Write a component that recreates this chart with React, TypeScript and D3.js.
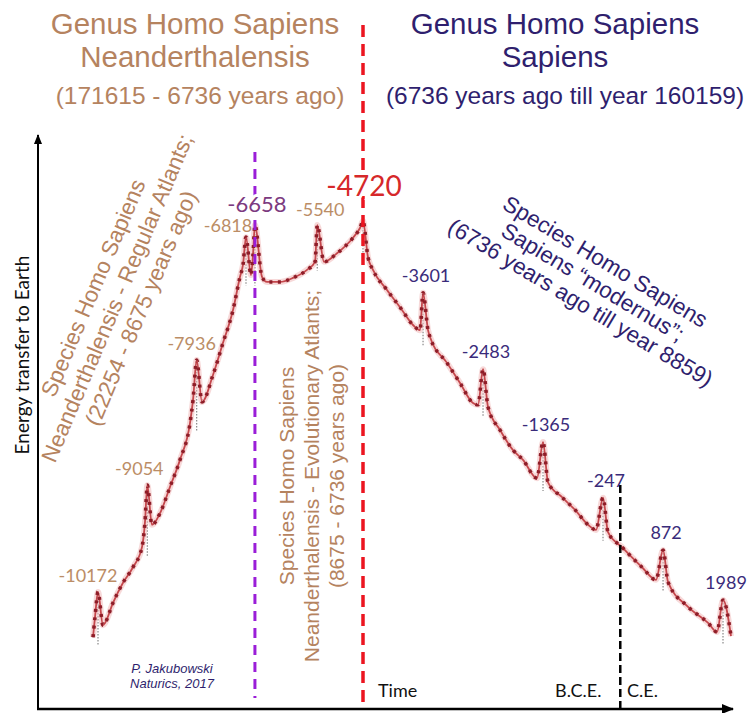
import React, { useEffect, useRef } from 'react';
import * as d3 from 'd3';

// curve points (year, relative energy 0..100)
const curveYears = [
  -10285, -10240, -10172, -10059, -10013, -9832, -9605, -9379, -9175, -9107,
  -9054, -8950, -8767, -8540, -8314, -8087, -8019, -7936, -7815, -7566,
  -7339, -7112, -6954, -6886, -6818, -6728, -6693, -6658, -6531, -6441,
  -6208, -5975, -5724, -5580, -5540, -5419, -5186, -4899, -4774, -4720,
  -4627, -4534, -4273, -4030, -3788, -3658, -3601, -3508, -3471, -3154,
  -2912, -2670, -2576, -2483, -2390, -2166, -1924, -1738, -1477, -1365,
  -1272, -1011, -769, -526, -377, -247, -154, 107, 480, 741,
  872, 965, 1338, 1711, 1878, 1989, 2138,
];
const curveEnergy = [
  12.5, 16.0, 20.4, 14.6, 15.0, 18.5, 22.0, 24.7, 28.2, 32.6,
  39.0, 32.1, 34.1, 38.7, 43.4, 49.8, 53.8, 60.8, 53.5, 58.2,
  63.8, 69.5, 75.3, 77.4, 82.2, 75.6, 79.1, 84.3, 75.3, 74.4,
  74.4, 75.1, 76.5, 77.9, 84.3, 77.9, 79.4, 82.1, 83.8, 85.0,
  78.7, 76.5, 73.0, 70.0, 66.9, 66.0, 72.5, 66.0, 64.8, 60.3,
  56.8, 53.3, 53.0, 59.2, 52.6, 48.6, 45.1, 43.4, 40.2, 46.5,
  39.5, 36.9, 34.7, 32.1, 31.2, 36.8, 30.8, 28.2, 24.7, 22.5,
  27.7, 22.1, 17.8, 15.0, 13.4, 19.0, 12.7,
];

const peakYears = [-10172, -9054, -7936, -6818, -6658, -5540, -4720, -3601, -2483, -1365, -247, 872, 1989];

const leftTitle = ['Genus Homo Sapiens', 'Neanderthalensis'];
const leftSub = '(171615 - 6736 years ago)';
const rightTitle = ['Genus Homo Sapiens', 'Sapiens'];
const rightSub = '(6736 years ago till year 160159)';
const regularText = ['Species Homo Sapiens', 'Neanderthalensis - Regular Atlants;', '(22254 - 8675 years ago)'];
const evolText = ['Species Homo Sapiens', 'Neanderthalensis -  Evolutionary Atlants;', '(8675 - 6736 years ago)'];
const modernText = ['Species Homo Sapiens', 'Sapiens \u201cmodernus\u201d;', '(6736 years ago till year 8859)'];
const credit = ['P. Jakubowski', 'Naturics, 2017'];

const TAN = '#b5835f';
const INDIGO = '#2f1f6e';
const ARIAL = '"Liberation Sans", Arial, sans-serif';
const ROUND = 'Lato, "Noto Sans", sans-serif';

const W = 750;
const H = 713;

const App = () => {
  const ref = useRef<SVGSVGElement | null>(null);

  useEffect(() => {
    const svg = d3.select(ref.current);
    svg.selectAll('*').remove();

    const axisX = 38;
    const axisY = 709;

    const x = d3.scaleLinear().domain([-10172, -6818, -4720, 1989]).range([98, 246, 363, 723]);
    const y = d3.scaleLinear().domain([0, 100]).range([axisY, 135]);

    const defs = svg.append('defs');
    defs.append('marker')
      .attr('id', 'arrow')
      .attr('viewBox', '0 0 10 10')
      .attr('refX', 9)
      .attr('refY', 5)
      .attr('markerWidth', 5)
      .attr('markerHeight', 5)
      .attr('markerUnits', 'strokeWidth')
      .attr('orient', 'auto')
      .append('path')
      .attr('d', 'M0,1 L10,5 L0,9 Z')
      .attr('fill', '#000');

    const pts = curveYears.map((yr, i) => [yr, curveEnergy[i]] as [number, number]);
    const energyAt = (yr: number) => curveEnergy[curveYears.indexOf(yr)];

    // titles
    const title = (lines: string[], sub: string, cx: number, subCx: number, color: string) => {
      lines.forEach((t, i) => {
        svg.append('text')
          .attr('x', cx).attr('y', 34 + i * 33)
          .attr('text-anchor', 'middle')
          .style('font-family', ARIAL).style('font-size', '29.5px')
          .attr('fill', color).text(t);
      });
      svg.append('text')
        .attr('x', subCx).attr('y', 104)
        .attr('text-anchor', 'middle')
        .style('font-family', ARIAL).style('font-size', '24.5px')
        .attr('fill', color).text(sub);
    };
    title(leftTitle, leftSub, 195, 200, TAN);
    title(rightTitle, rightSub, 555, 565, INDIGO);

    // rotated text blocks
    const block = (lines: string[], cx: number, cy: number, angle: number, color: string, size: number, gap: number) => {
      const g = svg.append('g').attr('transform', `translate(${cx},${cy}) rotate(${angle})`);
      lines.forEach((t, i) => {
        g.append('text')
          .attr('x', 0).attr('y', (i - 1) * gap)
          .attr('dy', '0.35em')
          .attr('text-anchor', 'middle')
          .style('font-family', ARIAL).style('font-size', `${size}px`)
          .attr('fill', color).text(t);
      });
    };
    block(regularText, 117, 298, -67, TAN, 22.5, 26);
    block(evolText, 312, 476, -90, TAN, 21, 25);
    block(modernText, 593, 282, 31, INDIGO, 22.5, 24);

    // curve: soft halo, line, teeth
    const line = d3.line<[number, number]>()
      .x(d => x(d[0]))
      .y(d => y(d[1]))
      .curve(d3.curveMonotoneX);

    // faint dotted drop lines under peaks
    peakYears.forEach(yr => {
      const near = curveYears.filter(v => Math.abs(v - yr) < 160).map(energyAt);
      const base = (d3.min(near) ?? energyAt(yr)) - 1.5;
      svg.append('line')
        .attr('x1', x(yr)).attr('x2', x(yr))
        .attr('y1', y(energyAt(yr))).attr('y2', y(base))
        .attr('stroke', '#888').attr('stroke-width', 1.2)
        .attr('stroke-dasharray', '1.5 1.5');
    });

    svg.append('path').datum(pts).attr('d', line)
      .attr('fill', 'none').attr('stroke', '#f1b9b9').attr('stroke-width', 6)
      .attr('stroke-opacity', 0.55).attr('stroke-linejoin', 'round');
    svg.append('path').datum(pts).attr('d', line)
      .attr('fill', 'none').attr('stroke', '#c4474c').attr('stroke-width', 1.8)
      .attr('stroke-linejoin', 'round');
    svg.append('path').datum(pts).attr('d', line)
      .attr('fill', 'none').attr('stroke', '#8e1d28').attr('stroke-width', 3.6)
      .attr('stroke-dasharray', '3 5.5');

    // vertical dashed separators
    svg.append('line')
      .attr('x1', x(-6658)).attr('x2', x(-6658)).attr('y1', 152).attr('y2', 698)
      .attr('stroke', '#9a1ed8').attr('stroke-width', 3).attr('stroke-dasharray', '10 7');
    svg.append('line')
      .attr('x1', x(-4720)).attr('x2', x(-4720)).attr('y1', 25).attr('y2', axisY)
      .attr('stroke', '#ec1520').attr('stroke-width', 3.5).attr('stroke-dasharray', '12 7');
    svg.append('line')
      .attr('x1', x(0) + 4).attr('x2', x(0) + 4).attr('y1', 485).attr('y2', H)
      .attr('stroke', '#000').attr('stroke-width', 2.5).attr('stroke-dasharray', '8 4');

    // peak labels
    const special: Record<number, { dx: number; dy: number; size: number; color: string }> = {
      [-10172]: { dx: -10, dy: -10, size: 18, color: '#bb8d66' },
      [-9054]: { dx: -8, dy: -10, size: 18, color: '#bb8d66' },
      [-7936]: { dx: -5, dy: -10, size: 18, color: '#bb8d66' },
      [-6818]: { dx: -18, dy: -5, size: 18, color: '#bb8d66' },
      [-6658]: { dx: 2, dy: -13, size: 22, color: '#7c3a80' },
      [-5540]: { dx: 3, dy: -9, size: 18, color: '#bb8d66' },
      [-4720]: { dx: 1, dy: -25, size: 28, color: '#d6282a' },
    };
    peakYears.forEach(yr => {
      const s = special[yr] ?? { dx: 3, dy: -11, size: 18, color: '#3a2b7a' };
      svg.append('text')
        .attr('x', x(yr) + s.dx).attr('y', y(energyAt(yr)) + s.dy)
        .attr('text-anchor', 'middle')
        .style('font-family', ROUND).style('font-size', `${s.size}px`)
        .attr('fill', s.color)
        .attr('stroke', '#fff').attr('stroke-width', s.size > 20 ? 6 : 0)
        .style('paint-order', 'stroke')
        .text(String(yr));
    });

    // axes
    svg.append('line')
      .attr('x1', axisX).attr('x2', axisX).attr('y1', axisY + 1).attr('y2', y(100))
      .attr('stroke', '#000').attr('stroke-width', 2).attr('marker-end', 'url(#arrow)');
    svg.append('line')
      .attr('x1', axisX - 1).attr('x2', 733).attr('y1', axisY).attr('y2', axisY)
      .attr('stroke', '#000').attr('stroke-width', 2.5).attr('marker-end', 'url(#arrow)');

    svg.append('text')
      .attr('transform', 'translate(22,355) rotate(-90)')
      .attr('text-anchor', 'middle').attr('dy', '0.35em')
      .style('font-family', ROUND).style('font-size', '19px')
      .attr('fill', '#111').text('Energy transfer to Earth');

    [['Time', 378], ['B.C.E.', 555], ['C.E.', 627]].forEach(([t, px]) => {
      svg.append('text')
        .attr('x', px as number).attr('y', 697)
        .style('font-family', ROUND).style('font-size', '18px')
        .attr('fill', '#111').text(t as string);
    });

    credit.forEach((t, i) => {
      svg.append('text')
        .attr('x', 172).attr('y', 673 + i * 15)
        .attr('text-anchor', 'middle')
        .style('font-family', ARIAL).style('font-size', '13px').style('font-style', 'italic')
        .attr('fill', INDIGO).text(t);
    });
  }, []);

  return (
    <svg ref={ref} width={W} height={H}
      style={{ position: 'absolute', left: 0, top: 0, background: '#fff' }} />
  );
};

export default App;
